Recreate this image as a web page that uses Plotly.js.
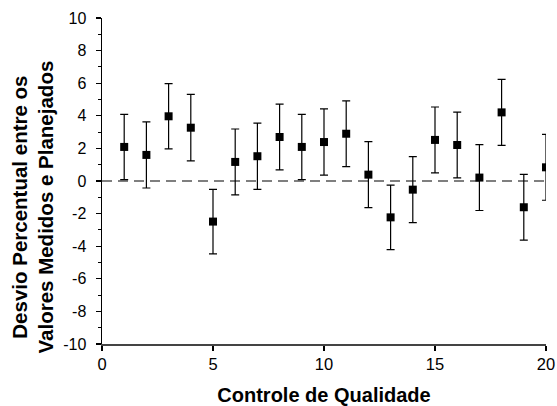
<!DOCTYPE html>
<html>
<head>
<meta charset="utf-8">
<script src="https://cdn.plot.ly/plotly-3.0.1.min.js"></script>
<style>html,body{margin:0;padding:0;background:#fff;}#chart{width:557px;height:406px;}</style>
</head>
<body>
<div id="chart"></div>
<script>
const controle = [1,2,3,4,5,6,7,8,9,10,11,12,13,14,15,16,17,18,19,20];
const desvio = [2.09,1.6,3.97,3.27,-2.49,1.17,1.52,2.7,2.09,2.39,2.9,0.39,-2.23,-0.53,2.52,2.21,0.21,4.21,-1.61,0.84];
const erro = [2.0,2.03,2.0,2.04,1.98,2.02,2.03,2.02,2.0,2.03,2.02,2.02,1.98,2.02,2.02,2.02,2.02,2.02,2.02,2.02];
const refX = [0,20];
const refY = [0,0];
const xTicks = [0,5,10,15,20];
const yTicks = [-10,-8,-6,-4,-2,0,2,4,6,8,10];
const yTickText = ['-10','-8','-6','-4','-2','0','2','4','6','8','10'];
const yMinor = [-9,-7,-5,-3,-1,1,3,5,7,9];

const traces = [
  {x: refX, y: refY, type:'scatter', mode:'lines',
   line:{color:'#7f7f7f', width:1.8, dash:'10px,6px'}, hoverinfo:'skip', showlegend:false},
  {x: controle, y: desvio, type:'scatter', mode:'markers',
   marker:{symbol:'square', size:8, color:'#000'},
   error_y:{type:'data', array: erro, visible:true, color:'#000', thickness:1.2, width:4},
   showlegend:false}
];

const layout = {
  width:557, height:406,
  margin:{l:102, r:11, t:18, b:62},
  paper_bgcolor:'#fff', plot_bgcolor:'#fff',
  font:{family:'Liberation Sans, Arial, sans-serif', color:'#000'},
  xaxis:{range:[0,20], tickvals:xTicks, ticks:'outside', ticklen:5, tickwidth:1.2, tickcolor:'#000',
    showline:true, linecolor:'#444', linewidth:1.6, showgrid:false, zeroline:false,
    tickfont:{size:16.5, color:'#000'},
    title:{text:'<b>Controle de Qualidade</b>', font:{size:20, color:'#000'}, standoff:16}},
  yaxis:{range:[-10,10], tickvals:yTicks, ticktext:yTickText, ticks:'outside', ticklen:5, tickwidth:1.2, tickcolor:'#000',
    ticklabelstandoff:6,
    minor:{tickvals:yMinor, ticks:'outside', ticklen:3, tickcolor:'#000', tickwidth:1},
    showline:true, linecolor:'#000', linewidth:1.5, showgrid:false, zeroline:false,
    tickfont:{size:16, color:'#000'}},
  annotations:[{
    text:'<b>Desvio Percentual entre os<br>Valores Medidos e Planejados</b>',
    xref:'paper', yref:'paper', x:(32.5-102)/444, y:(344-207)/326,
    xanchor:'center', yanchor:'middle', textangle:-90, showarrow:false,
    font:{size:20.5, color:'#000', family:'Liberation Sans, Arial, sans-serif'}
  }]
};

Plotly.newPlot('chart', traces, layout, {staticPlot:true, displayModeBar:false});
</script>
</body>
</html>
